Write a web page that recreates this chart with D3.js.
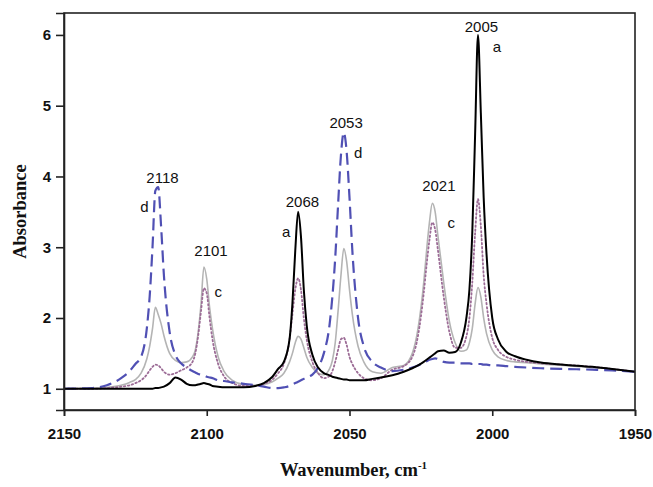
<!DOCTYPE html>
<html>
<head>
<meta charset="utf-8">
<script src="https://cdn.jsdelivr.net/npm/d3@7"></script>
<style>
  body { margin: 0; background: #fff; }
  svg { display: block; }
  .tick text { font-family: "Liberation Sans", Arial, sans-serif; font-weight: bold; font-size: 15px; fill: #111; }
  .title { font-family: "Liberation Serif", "Times New Roman", serif; font-weight: bold; font-size: 18.5px; fill: #111; }
  .note { font-family: "Liberation Sans", Arial, sans-serif; font-size: 15px; fill: #111; }
</style>
</head>
<body>
<svg id="chart" width="653" height="487"></svg>
<script>
'use strict';

// wavenumber grid (cm-1), shared by all spectra
var wavenumbers = [
  2150, 2140, 2135, 2130, 2127, 2125, 2123, 2121, 2120,
  2119, 2118, 2117, 2116, 2115, 2113, 2111, 2109, 2107, 2105,
  2104, 2103, 2102, 2101, 2100, 2099, 2098, 2096, 2094, 2091,
  2087, 2083, 2080, 2077, 2075, 2073, 2071, 2070, 2069, 2068,
  2067, 2066, 2065, 2063, 2061, 2059, 2057, 2056, 2055, 2054,
  2053, 2052, 2051, 2050, 2049, 2047, 2045, 2042, 2039, 2035,
  2031, 2028, 2026, 2024, 2023, 2022, 2021, 2020, 2019, 2017,
  2015, 2013, 2011, 2009, 2008, 2007, 2006, 2005, 2004, 2003,
  2002, 2000, 1998, 1995, 1992, 1988, 1983, 1975, 1965, 1958,
  1950
];

// spectrum a (black solid)
var specA = [
  1.00, 1.00, 1.00, 1.00, 1.00, 1.00, 1.00, 1.00, 1.00,
  1.00, 1.01, 1.01, 1.02, 1.03, 1.08, 1.16, 1.13, 1.07, 1.05,
  1.05, 1.06, 1.07, 1.08, 1.07, 1.06, 1.04, 1.03, 1.02, 1.02,
  1.02, 1.04, 1.08, 1.17, 1.28, 1.38, 1.70, 2.20, 2.95, 3.50,
  3.15, 2.40, 1.90, 1.48, 1.30, 1.22, 1.19, 1.17, 1.16, 1.15,
  1.14, 1.13, 1.13, 1.12, 1.12, 1.12, 1.12, 1.14, 1.16, 1.19,
  1.24, 1.29, 1.33, 1.38, 1.41, 1.44, 1.47, 1.50, 1.53, 1.54,
  1.51, 1.52, 1.65, 2.02, 2.40, 3.20, 4.60, 6.00, 4.90, 3.70,
  2.90, 2.00, 1.70, 1.52, 1.46, 1.41, 1.37, 1.34, 1.31, 1.28,
  1.24
];

// spectrum b (grey solid)
var specB = [
  1.00, 1.01, 1.02, 1.05, 1.09, 1.13, 1.22, 1.42, 1.60,
  1.85, 2.15, 2.05, 1.92, 1.75, 1.50, 1.40, 1.37, 1.38, 1.45,
  1.55, 1.80, 2.20, 2.72, 2.55, 2.15, 1.85, 1.45, 1.25, 1.12,
  1.06, 1.05, 1.06, 1.10, 1.15, 1.22, 1.38, 1.50, 1.65, 1.74,
  1.70, 1.58, 1.45, 1.30, 1.22, 1.20, 1.28, 1.40, 1.65, 2.10,
  2.60, 2.98, 2.80, 2.40, 2.05, 1.60, 1.38, 1.24, 1.22, 1.30,
  1.33, 1.50, 1.85, 2.50, 2.95, 3.35, 3.62, 3.50, 3.15, 2.50,
  1.95, 1.65, 1.53, 1.55, 1.65, 1.85, 2.20, 2.43, 2.30, 2.00,
  1.78, 1.55, 1.45, 1.40, 1.38, 1.37, 1.35, 1.33, 1.30, 1.28,
  1.24
];

// spectrum c (mauve dotted)
var specC = [
  1.00, 1.00, 1.01, 1.03, 1.05, 1.08, 1.12, 1.20, 1.26,
  1.31, 1.34, 1.33, 1.29, 1.24, 1.20, 1.22, 1.26, 1.30, 1.38,
  1.50, 1.75, 2.10, 2.42, 2.35, 2.00, 1.70, 1.35, 1.18, 1.08,
  1.04, 1.04, 1.07, 1.13, 1.22, 1.35, 1.70, 2.05, 2.40, 2.56,
  2.40, 2.00, 1.70, 1.38, 1.22, 1.15, 1.18, 1.25, 1.38, 1.55,
  1.70, 1.72, 1.62, 1.45, 1.35, 1.22, 1.15, 1.12, 1.15, 1.27,
  1.32, 1.45, 1.75, 2.35, 2.75, 3.10, 3.35, 3.25, 2.95, 2.30,
  1.80, 1.58, 1.58, 1.75, 2.00, 2.50, 3.20, 3.68, 3.30, 2.60,
  2.20, 1.72, 1.55, 1.45, 1.41, 1.38, 1.36, 1.34, 1.31, 1.28,
  1.24
];

// spectrum d (blue dashed)
var specD = [
  1.00, 1.01, 1.05, 1.15, 1.25, 1.35, 1.45, 1.85, 2.30,
  3.00, 3.80, 3.85, 3.30, 2.60, 1.80, 1.48, 1.36, 1.30, 1.25,
  1.23, 1.21, 1.20, 1.19, 1.17, 1.16, 1.15, 1.12, 1.11, 1.09,
  1.07, 1.05, 1.03, 1.01, 1.01, 1.02, 1.04, 1.06, 1.08, 1.10,
  1.12, 1.14, 1.16, 1.20, 1.30, 1.50, 1.90, 2.30, 2.85, 3.60,
  4.30, 4.62, 4.35, 3.70, 2.95, 2.00, 1.60, 1.38, 1.30, 1.25,
  1.27, 1.30, 1.33, 1.37, 1.39, 1.41, 1.42, 1.43, 1.42, 1.38,
  1.37, 1.37, 1.36, 1.36, 1.36, 1.35, 1.35, 1.35, 1.35, 1.34,
  1.34, 1.33, 1.33, 1.32, 1.31, 1.30, 1.29, 1.28, 1.27, 1.26,
  1.24
];

var xTicks = [2150, 2100, 2050, 2000, 1950];
var yTicks = [1, 2, 3, 4, 5, 6];

// peak labels: wavenumber, absorbance at text baseline, text
var peakLabels = [
  [2115.5, 3.91, '2118'], [2098.5, 2.88, '2101'], [2066.5, 3.57, '2068'],
  [2051.2, 4.69, '2053'], [2018.7, 3.80, '2021'], [2003.8, 6.04, '2005']
];
var curveLabels = [
  [2121.8, 3.50, 'd'], [2096, 2.30, 'c'], [2072.2, 3.15, 'a'],
  [2047, 4.26, 'd'], [2014.4, 3.27, 'c'], [1998.4, 5.76, 'a']
];

var svg = d3.select('#chart');
var mLeft = 64, mRight = 635, mTop = 13, mBottom = 410;

var x = d3.scaleLinear().domain([2150, 1950]).range([mLeft, mRight]);
var y = d3.scaleLinear().domain([0.7, 6.31]).range([mBottom, mTop]);

svg.append('defs').append('clipPath').attr('id', 'clip')
  .append('rect').attr('x', mLeft).attr('y', mTop).attr('width', mRight - mLeft).attr('height', mBottom - mTop);

function series(vals) {
  return wavenumbers.map(function (w, i) { return [w, vals[i]]; });
}

var line = d3.line()
  .x(function (d) { return x(d[0]); })
  .y(function (d) { return y(d[1]); })
  .curve(d3.curveMonotoneX);

var plot = svg.append('g').attr('clip-path', 'url(#clip)');

plot.append('path').datum(series(specB)).attr('d', line)
  .attr('fill', 'none').attr('stroke', '#b4b4b4').attr('stroke-width', 1.6);
plot.append('path').datum(series(specC)).attr('d', line)
  .attr('fill', 'none').attr('stroke', '#9c6c96').attr('stroke-width', 1.8)
  .attr('stroke-dasharray', '1.5,2.5').attr('stroke-linecap', 'round');
plot.append('path').datum(series(specD)).attr('d', line)
  .attr('fill', 'none').attr('stroke', '#5050b4').attr('stroke-width', 2.2)
  .attr('stroke-dasharray', '12,6');
plot.append('path').datum(series(specA)).attr('d', line)
  .attr('fill', 'none').attr('stroke', '#000').attr('stroke-width', 2);

// frame
svg.append('rect').attr('x', mLeft).attr('y', mTop).attr('width', mRight - mLeft).attr('height', mBottom - mTop)
  .attr('fill', 'none').attr('stroke', '#222').attr('stroke-width', 1.6);

var xAxis = svg.append('g').attr('transform', 'translate(0,' + mBottom + ')')
  .call(d3.axisBottom(x).tickValues(xTicks).tickSize(6).tickPadding(12).tickFormat(d3.format('d')));
var yAxis = svg.append('g').attr('transform', 'translate(' + mLeft + ',0)')
  .call(d3.axisLeft(y).tickValues(yTicks).tickSize(8).tickPadding(5).tickFormat(d3.format('d')));
[xAxis, yAxis].forEach(function (g) {
  g.select('.domain').attr('stroke', '#222').attr('stroke-width', 1.6);
  g.selectAll('.tick line').attr('stroke', '#222').attr('stroke-width', 1.6);
  g.attr('font-size', null).attr('font-family', null);
});

svg.selectAll('text.peak').data(peakLabels).enter().append('text')
  .attr('class', 'note').attr('text-anchor', 'middle')
  .attr('x', function (d) { return x(d[0]); })
  .attr('y', function (d) { return y(d[1]); })
  .text(function (d) { return d[2]; });

svg.selectAll('text.curve').data(curveLabels).enter().append('text')
  .attr('class', 'note').attr('text-anchor', 'middle')
  .attr('x', function (d) { return x(d[0]); })
  .attr('y', function (d) { return y(d[1]); })
  .text(function (d) { return d[2]; });

svg.append('text').attr('class', 'title').attr('text-anchor', 'middle')
  .attr('transform', 'translate(26,' + ((mTop + mBottom) / 2) + ') rotate(-90)')
  .text('Absorbance');

var xt = svg.append('text').attr('class', 'title').attr('text-anchor', 'middle')
  .attr('x', (mLeft + mRight) / 2 + 4).attr('y', 476);
xt.append('tspan').text('Wavenumber, cm');
xt.append('tspan').attr('dy', -7).attr('font-size', 11).text('-1');
</script>
</body>
</html>
